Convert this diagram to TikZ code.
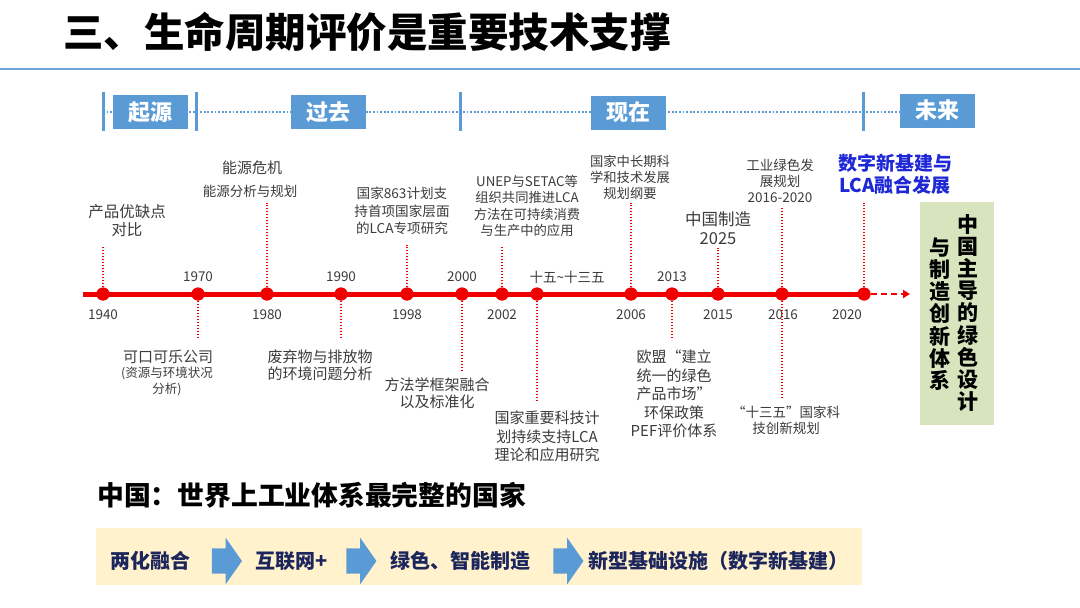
\documentclass[tikz,border=0pt]{standalone}
\usepackage{fontspec}
\setmainfont{Noto Sans CJK SC}
\usetikzlibrary{shapes.arrows,arrows.meta}
\definecolor{phaseblue}{RGB}{91,155,213}
\definecolor{lineblue}{RGB}{110,165,215}
\definecolor{tlred}{RGB}{240,0,0}
\definecolor{lblgray}{RGB}{60,60,60}
\definecolor{greenbg}{RGB}{215,228,189}
\definecolor{creambg}{RGB}{255,242,204}
\definecolor{navytxt}{RGB}{28,38,92}
\definecolor{futureblue}{RGB}{30,40,215}
\newcommand\myfs[2]{\fontsize{#1}{#2}\selectfont}
\begin{document}
\begin{tikzpicture}[x=1pt,y=-1pt,
  phase/.style={fill=phaseblue,text=white,font=\bfseries\myfs{22}{24},minimum width=75,minimum height=34,inner sep=0},
  phasetick/.style={draw=phaseblue,line width=3},
  bluedots/.style={draw=phaseblue,line width=1.9,dash pattern=on 1.8 off 1.8},
  redline/.style={draw=tlred,line width=5},
  reddash/.style={draw=tlred,line width=2.2,dash pattern=on 6 off 4},
  tldot/.style={circle,fill=tlred,minimum size=13,inner sep=0},
  conn/.style={draw=tlred,line width=2,dash pattern=on 1.6 off 1.4},
  year/.style={text=lblgray,font=\myfs{13.5}{15},inner sep=0},
  lbl/.style={text=lblgray,align=center,inner sep=0},
  barrow/.style={single arrow,fill=phaseblue,draw=none,minimum height=30,single arrow head extend=10.5,single arrow tip angle=110,inner xsep=0,inner ysep=12.5},
  btxt/.style={text=navytxt,font=\bfseries\myfs{20}{22},inner sep=0}
]
\useasboundingbox (0,0) rectangle (1080,608);
\fill[white] (0,0) rectangle (1080,608);

% title
\node[anchor=west,font=\bfseries\myfs{40.5}{42},inner sep=0] (title) at (63,32) {三、生命周期评价是重要技术支撑};
\draw[lineblue,line width=2.5] (0,69) -- (1080,69);

% phase bar
\draw[bluedots] (103,112) -- (900,112);
\draw[phasetick] (103,92) -- (103,131);
\draw[phasetick] (196,92) -- (196,131);
\draw[phasetick] (460,92) -- (460,131);
\draw[phasetick] (863,92) -- (863,131);
\node[phase] (p1) at (150.5,112) {起源};
\node[phase] (p2) at (328.5,112) {过去};
\node[phase] (p3) at (628.5,112.5) {现在};
\node[phase] (p4) at (937.5,110.5) {未来};

% timeline
\coordinate (tstart) at (83,294);
\coordinate (tend) at (910,294);
\node[tldot] (d1940) at (103,294) {};
\node[tldot] (d1970) at (198,294) {};
\node[tldot] (d1980) at (267,294) {};
\node[tldot] (d1990) at (341,294) {};
\node[tldot] (d1998) at (407,294) {};
\node[tldot] (d2000) at (462,294) {};
\node[tldot] (d2002) at (502,294) {};
\node[tldot] (d15) at (537,294) {};
\node[tldot] (d2006) at (631,294) {};
\node[tldot] (d2013) at (672,294) {};
\node[tldot] (d2015) at (718,294) {};
\node[tldot] (d2016) at (782,294) {};
\node[tldot] (d2020) at (864,294) {};
\draw[redline] (tstart) -- (d2020.center);
\draw[reddash,-{Triangle[length=7,width=8]}] (d2020.east) -- (tend);
% redraw dots on top of the line
\foreach \n in {d1940,d1970,d1980,d1990,d1998,d2000,d2002,d15,d2006,d2013,d2015,d2016,d2020}
  \fill[tlred] (\n.center) circle (6.5);

% year labels
\node[year] (y1940) at (103,315) {1940};
\node[year] (y1970) at (198,277) {1970};
\node[year] (y1980) at (267,315) {1980};
\node[year] (y1990) at (341,277) {1990};
\node[year] (y1998) at (407,315) {1998};
\node[year] (y2000) at (462,277) {2000};
\node[year] (y2002) at (502,315) {2002};
\node[year,font=\myfs{13.5}{15}] (y15) at (567,277) {十五\char"007E十三五};
\node[year] (y2006) at (631,315) {2006};
\node[year] (y2013) at (672,277) {2013};
\node[year] (y2015) at (718,315) {2015};
\node[year] (y2016) at (783,315) {2016};
\node[year] (y2020) at (847,315) {2020};

% connector ends
\coordinate (e1940) at (103,247);
\coordinate (e1970) at (198,337);
\coordinate (e1980) at (267,203);
\coordinate (e1990) at (341,337);
\coordinate (e1998) at (407,245);
\coordinate (e2000) at (462,370);
\coordinate (e2002) at (502,246);
\coordinate (e15) at (537,400);
\coordinate (e2006) at (631,203);
\coordinate (e2013) at (672,338);
\coordinate (e2015) at (718,248);
\coordinate (e2016a) at (782,207);
\coordinate (e2016b) at (782,397);
\coordinate (e2020) at (864,203);
\foreach \a/\b in {d1940/e1940,d1970/e1970,d1980/e1980,d1990/e1990,d1998/e1998,d2000/e2000,d2002/e2002,d15/e15,d2006/e2006,d2013/e2013,d2015/e2015,d2016/e2016a,d2016/e2016b,d2020/e2020}
  \draw[conn] (\a) -- (\b);

% event labels
\node[lbl,font=\myfs{15.5}{18}] (l1940) at (127,221) {产品优缺点\\对比};
\node[lbl,font=\myfs{15}{17}] (l1970) at (168,357) {可口可乐公司};
\node[lbl,font=\myfs{12.5}{15.5}] (l1970b) at (167,381.5) {(资源与环境状况\\分析)};
\node[lbl,font=\myfs{15}{17}] (l1980) at (252,168) {能源危机};
\node[lbl,font=\myfs{13.5}{16}] (l1980b) at (250,191) {能源分析与规划};
\node[lbl,font=\myfs{15}{17.5}] (l1990) at (320,365.5) {废弃物与排放物\\的环境问题分析};
\node[lbl,font=\myfs{13.6}{17.5}] (l1998) at (402,211) {国家863计划支\\持首项国家层面\\的LCA专项研究};
\node[lbl,font=\myfs{15}{17.5}] (l2000) at (437,393.5) {方法学框架融合\\以及标准化};
\node[lbl,font=\myfs{13.3}{16.2}] (l2002) at (527,206) {UNEP与SETAC等\\组织共同推进LCA\\方法在可持续消费\\与生产中的应用};
\node[lbl,font=\myfs{15}{18.5}] (l15) at (547,436.5) {国家重要科技计\\划持续支持LCA\\理论和应用研究};
\node[lbl,font=\myfs{13.3}{15.7}] (l2006) at (630,177.5) {国家中长期科\\学和技术发展\\规划纲要};
\node[lbl,font=\myfs{15}{18.5}] (l2013) at (674,394) {欧盟“建立\\统一的绿色\\产品市场”\\环保政策\\PEF评价体系};
\node[lbl,font=\myfs{16.5}{18.5}] (l2015) at (718,228) {中国制造\\2025};
\node[lbl,font=\myfs{13.5}{16}] (l2016a) at (780,180.5) {工业绿色发\\展规划\\2016-2020};
\node[lbl,font=\myfs{13.5}{16}] (l2016b) at (786,420.5) {“十三五”国家科\\技创新规划};
\node[lbl,text=futureblue,font=\bfseries\myfs{19}{22}] (l2020) at (895,174) {数字新基建与\\LCA融合发展};

% green box with vertical text
\node[fill=greenbg,minimum width=74,minimum height=223,inner sep=0] (gbox) at (957,313.5) {};
\node[align=center,inner sep=0,font=\bfseries\myfs{21}{22.2}] (gR) at (968,313) {中\\国\\主\\导\\的\\绿\\色\\设\\计};
\node[align=center,inner sep=0,font=\bfseries\myfs{21}{22.2}] (gL) at (940,314) {与\\制\\造\\创\\新\\体\\系};

% bottom
\node[anchor=west,font=\bfseries\myfs{26.8}{28},inner sep=0] (head) at (97,495) {中国：世界上工业体系最完整的国家};
\node[fill=creambg,minimum width=766,minimum height=57,inner sep=0] (cream) at (479,556.5) {};
\node[btxt] (b1) at (150,561) {两化融合};
\node[barrow] (a1) at (222.5,561) {};
\node[btxt] (b2) at (292,561) {互联网+};
\node[barrow] (a2) at (357,561) {};
\node[btxt] (b3) at (460,561) {绿色、智能制造};
\node[barrow] (a3) at (564,561) {};
\node[btxt] (b4) at (718,561) {新型基础设施（数字新基建）};
\end{tikzpicture}
\end{document}
